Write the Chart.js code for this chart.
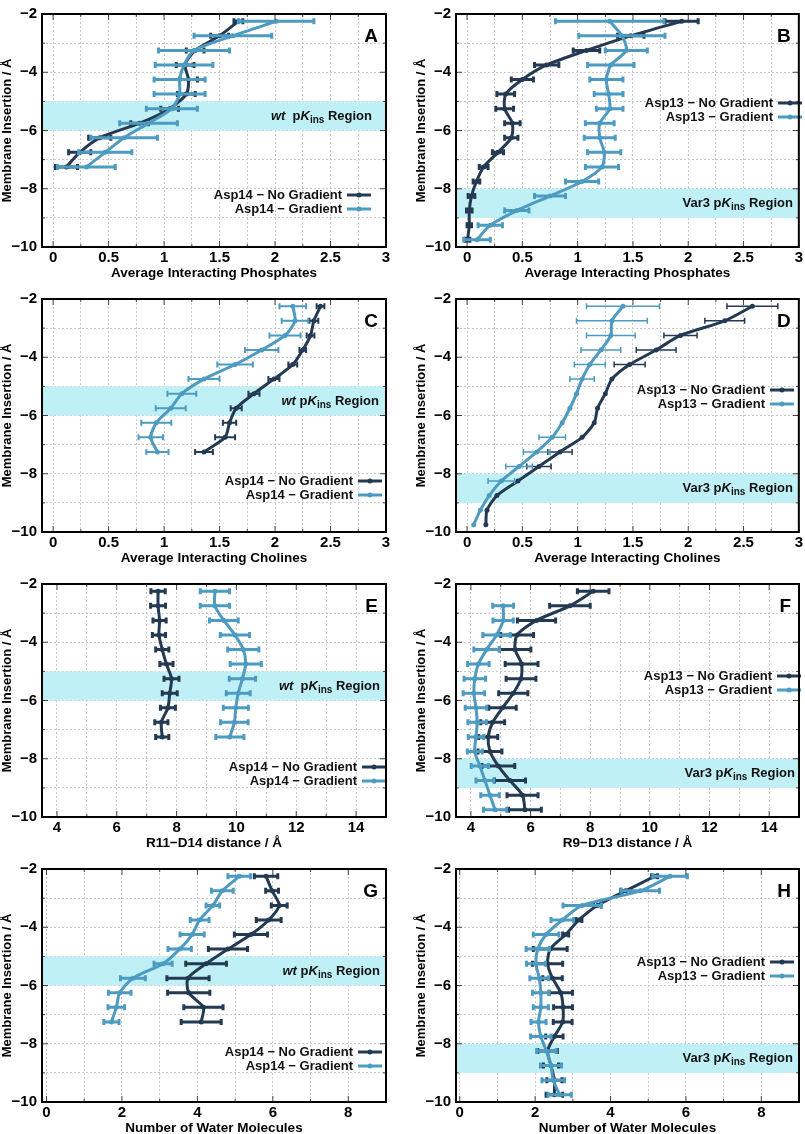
<!DOCTYPE html>
<html>
<head>
<meta charset="utf-8">
<script src="https://cdn.jsdelivr.net/npm/chart.js@4.4.1/dist/chart.umd.min.js"></script>
<style>
body { margin: 0; width: 805px; height: 1134px; overflow: hidden; background: #fff; position: relative; }
canvas { position: absolute; }
</style>
</head>
<body>
<script>
// membrane insertion depths (Å)
const depthsShort = [-2.25, -2.75, -3.25, -3.75, -4.25, -4.75, -5.25, -5.75, -6.25, -6.75, -7.25];
const depthsLong = [-2.25, -2.75, -3.25, -3.75, -4.25, -4.75, -5.25, -5.75, -6.25, -6.75, -7.25, -7.75, -8.25, -8.75, -9.25, -9.75];
const depthsF = [-2.75, -3.25, -3.75, -4.25, -4.75, -5.25, -5.75, -6.25, -6.75, -7.25, -7.75, -8.25, -8.75, -9.25, -9.75];

// A - phosphates, Asp14
const phosAsp14NoGrad = [1.67, 1.50, 1.28, 1.19, 1.22, 1.20, 1.05, 0.78, 0.42, 0.24, 0.12];
const phosAsp14NoGradErr = [0.04, 0.08, 0.08, 0.08, 0.08, 0.08, 0.08, 0.08, 0.10, 0.10, 0.10];
const phosAsp14Grad = [2.01, 1.62, 1.27, 1.18, 1.14, 1.14, 1.07, 0.86, 0.64, 0.47, 0.30];
const phosAsp14GradErr = [0.34, 0.35, 0.32, 0.26, 0.23, 0.23, 0.23, 0.26, 0.30, 0.24, 0.26];

// B - phosphates, Asp13
const phosAsp13NoGrad = [1.94, 1.48, 1.08, 0.72, 0.50, 0.35, 0.34, 0.41, 0.40, 0.28, 0.15, 0.085, 0.04, 0.02, 0.02, 0.005];
const phosAsp13NoGradErr = [0.15, 0.12, 0.12, 0.11, 0.10, 0.08, 0.08, 0.07, 0.06, 0.05, 0.04, 0.03, 0.03, 0.025, 0.02, 0.02];
const phosAsp13Grad = [1.29, 1.40, 1.44, 1.30, 1.26, 1.28, 1.29, 1.20, 1.20, 1.24, 1.22, 1.04, 0.75, 0.45, 0.21, 0.09];
const phosAsp13GradErr = [0.49, 0.39, 0.19, 0.21, 0.15, 0.13, 0.12, 0.13, 0.14, 0.15, 0.15, 0.15, 0.14, 0.11, 0.11, 0.12];

// C - cholines, Asp14
const cholAsp14NoGrad = [2.41, 2.35, 2.32, 2.25, 2.16, 1.99, 1.81, 1.65, 1.59, 1.55, 1.36];
const cholAsp14NoGradErr = [0.035, 0.04, 0.035, 0.03, 0.04, 0.05, 0.05, 0.05, 0.06, 0.09, 0.08];
const cholAsp14Grad = [2.16, 2.18, 2.09, 1.88, 1.64, 1.36, 1.16, 1.06, 0.93, 0.88, 0.94];
const cholAsp14GradErr = [0.12, 0.12, 0.14, 0.15, 0.16, 0.14, 0.13, 0.135, 0.135, 0.11, 0.10];

// D - cholines, Asp13
const cholAsp13NoGrad = [2.58, 2.33, 1.93, 1.71, 1.47, 1.31, 1.25, 1.18, 1.15, 1.04, 0.84, 0.65, 0.46, 0.27, 0.18, 0.17];
const cholAsp13NoGradErr = [0.23, 0.18, 0.15, 0.18, 0.14, null, null, null, null, null, 0.11, 0.11, null, null, null, null];
const cholAsp13Grad = [1.41, 1.31, 1.30, 1.21, 1.11, 1.04, 0.99, 0.93, 0.86, 0.77, 0.63, 0.47, 0.31, 0.20, 0.12, 0.06];
const cholAsp13GradErr = [0.33, 0.32, 0.22, 0.18, 0.14, 0.11, null, null, null, 0.12, 0.12, 0.12, 0.12, null, null, null];

// E - R11-D14 distance
const distR11D14NoGrad = [7.38, 7.38, 7.43, 7.41, 7.52, 7.66, 7.83, 7.77, 7.71, 7.49, 7.52];
const distR11D14NoGradErr = [0.24, 0.25, 0.22, 0.22, 0.22, 0.22, 0.25, 0.25, 0.25, 0.22, 0.22];
const distR11D14Grad = [9.28, 9.28, 9.58, 9.95, 10.23, 10.31, 10.20, 10.06, 9.98, 9.93, 9.78];
const distR11D14GradErr = [0.49, 0.49, 0.48, 0.49, 0.52, 0.52, 0.44, 0.40, 0.42, 0.46, 0.47];

// F - R9-D13 distance
const distR9D13NoGrad = [8.10, 7.32, 6.20, 5.55, 5.48, 5.70, 5.68, 5.42, 5.06, 4.73, 4.58, 4.64, 4.92, 5.31, 5.73, 5.81];
const distR9D13NoGradErr = [0.53, 0.68, 0.64, 0.55, 0.53, 0.55, 0.50, 0.49, 0.46, 0.40, 0.32, 0.40, 0.55, 0.52, 0.52, 0.55];
const distR9D13Grad = [5.08, 5.08, 4.86, 4.53, 4.25, 4.13, 4.10, 4.17, 4.21, 4.17, 4.13, 4.30, 4.47, 4.64, 4.81];
const distR9D13GradErr = [0.35, 0.34, 0.46, 0.43, 0.36, 0.36, 0.36, 0.36, 0.31, 0.26, 0.25, 0.29, 0.30, 0.31, 0.39];

// G - water, Asp14
const waterAsp14NoGrad = [5.82, 5.98, 6.17, 5.89, 5.42, 4.81, 4.23, 3.75, 3.77, 4.16, 4.10];
const waterAsp14NoGradErr = [0.31, 0.17, 0.21, 0.33, 0.44, 0.52, 0.54, 0.56, 0.56, 0.52, 0.53];
const waterAsp14Grad = [5.11, 4.66, 4.41, 4.06, 3.86, 3.53, 3.09, 2.29, 1.94, 1.85, 1.72];
const waterAsp14GradErr = [0.30, 0.29, 0.18, 0.25, 0.32, 0.31, 0.24, 0.33, 0.30, 0.22, 0.20];

// H - water, Asp13
const waterAsp13NoGrad = [5.17, 4.40, 3.65, 3.16, 2.81, 2.40, 2.33, 2.46, 2.68, 2.74, 2.73, 2.51, 2.33, 2.42, 2.51, 2.51];
const waterAsp13NoGradErr = [0.08, 0.13, 0.10, 0.08, 0.08, 0.45, 0.40, 0.26, 0.31, 0.25, 0.25, 0.23, 0.26, 0.20, 0.20, 0.22];
const waterAsp13Grad = [5.58, 4.79, 3.25, 2.72, 2.29, 2.07, 2.02, 2.11, 2.15, 2.15, 2.09, 2.15, 2.30, 2.42, 2.48, 2.65];
const waterAsp13GradErr = [0.46, 0.51, 0.51, 0.30, 0.34, 0.31, 0.25, 0.25, 0.22, 0.20, 0.20, 0.27, 0.26, 0.28, 0.30, 0.31];

const asp14Names = ['Asp14 \u2212 No Gradient', 'Asp14 \u2212 Gradient'];
const asp13Names = ['Asp13 \u2212 No Gradient', 'Asp13 \u2212 Gradient'];

const DARK = '#233a52';
const LIGHT = '#4d9bc1';
const BAND = '#bff0f6';
const FONT = '"Liberation Sans", Arial, sans-serif';

const panels = [
  { key: 'A', col: 0, row: 0, xTitle: 'Average Interacting Phosphates', xMin: -0.1, xMax: 3, minor: 0.25, major: 0.5,
    names: asp14Names, band: [-6, -5], region: 'wt', regionEnd: 372, legend: [347, 195], errW: 3,
    dark: [depthsShort, phosAsp14NoGrad, phosAsp14NoGradErr], light: [depthsShort, phosAsp14Grad, phosAsp14GradErr] },
  { key: 'B', col: 1, row: 0, xTitle: 'Average Interacting Phosphates', xMin: -0.1, xMax: 3, minor: 0.25, major: 0.5,
    names: asp13Names, band: [-9, -8], region: 'Var3', regionEnd: 393, legend: [378, 103], errW: 3,
    dark: [depthsLong, phosAsp13NoGrad, phosAsp13NoGradErr], light: [depthsLong, phosAsp13Grad, phosAsp13GradErr] },
  { key: 'C', col: 0, row: 1, xTitle: 'Average Interacting Cholines', xMin: -0.1, xMax: 3, minor: 0.25, major: 0.5,
    names: asp14Names, band: [-6, -5], region: 'wt', regionEnd: 379, legend: [358, 196], errW: 2,
    dark: [depthsShort, cholAsp14NoGrad, cholAsp14NoGradErr], light: [depthsShort, cholAsp14Grad, cholAsp14GradErr] },
  { key: 'D', col: 1, row: 1, xTitle: 'Average Interacting Cholines', xMin: -0.1, xMax: 3, minor: 0.25, major: 0.5,
    names: asp13Names, band: [-9, -8], region: 'Var3', regionEnd: 393, legend: [370, 105], errW: 1.5,
    dark: [depthsLong, cholAsp13NoGrad, cholAsp13NoGradErr], light: [depthsLong, cholAsp13Grad, cholAsp13GradErr] },
  { key: 'E', col: 0, row: 2, xTitle: 'R11\u2212D14 distance / \u00c5', xMin: 3.5, xMax: 15, minor: 1, major: 2,
    names: asp14Names, band: [-6, -5], region: 'wt', regionEnd: 380, legend: [362, 197], errW: 3,
    dark: [depthsShort, distR11D14NoGrad, distR11D14NoGradErr], light: [depthsShort, distR11D14Grad, distR11D14GradErr] },
  { key: 'F', col: 1, row: 2, xTitle: 'R9\u2212D13 distance / \u00c5', xMin: 3.5, xMax: 15, minor: 1, major: 2,
    names: asp13Names, band: [-9, -8], region: 'Var3', regionEnd: 395, legend: [377, 106], errW: 3,
    dark: [depthsLong, distR9D13NoGrad, distR9D13NoGradErr], light: [depthsF, distR9D13Grad, distR9D13GradErr] },
  { key: 'G', col: 0, row: 3, xTitle: 'Number of Water Molecules', xMin: -0.12, xMax: 9, minor: 1, major: 2,
    names: asp14Names, band: [-6, -5], region: 'wt', regionEnd: 380, legend: [358, 197], errW: 3,
    dark: [depthsShort, waterAsp14NoGrad, waterAsp14NoGradErr], light: [depthsShort, waterAsp14Grad, waterAsp14GradErr] },
  { key: 'H', col: 1, row: 3, xTitle: 'Number of Water Molecules', xMin: -0.1, xMax: 9, minor: 1, major: 2,
    names: asp13Names, band: [-9, -8], region: 'Var3', regionEnd: 393, legend: [370, 107], errW: 3,
    dark: [depthsLong, waterAsp13NoGrad, waterAsp13NoGradErr], light: [depthsLong, waterAsp13Grad, waterAsp13GradErr] }
];

function isMajor(v, step) {
  const r = v / step;
  return Math.abs(r - Math.round(r)) < 1e-6;
}

function fmt(v) {
  const s = String(Math.round(v * 100) / 100);
  return v < 0 ? '\u2212' + s.slice(1) : s;
}

function drawErrorBars(ctx, chart, ds, width) {
  const xs = chart.scales.x, ys = chart.scales.y;
  ctx.save();
  ctx.strokeStyle = ds.borderColor;
  ctx.lineWidth = width;
  ds.data.forEach((p, i) => {
    const e = ds.errors[i];
    if (e == null) return;
    const py = ys.getPixelForValue(p.y);
    const x0 = xs.getPixelForValue(p.x - e);
    const x1 = xs.getPixelForValue(p.x + e);
    ctx.beginPath();
    ctx.moveTo(x0, py); ctx.lineTo(x1, py);
    ctx.moveTo(x0, py - 3); ctx.lineTo(x0, py + 3);
    ctx.moveTo(x1, py - 3); ctx.lineTo(x1, py + 3);
    ctx.stroke();
  });
  ctx.restore();
}

function drawRegionLabel(ctx, panel, xRight, yMid) {
  const base = 'bold 13px ' + FONT;
  const ital = 'italic bold 13px ' + FONT;
  const segs = panel.region === 'wt'
    ? [['wt', ital, 0], [panel.key === 'A' || panel.key === 'E' ? '  p' : ' p', base, 0], ['K', ital, 0], ['ins', 'bold 10px ' + FONT, 4], [' Region', base, 0]]
    : [['Var3 p', base, 0], ['K', ital, 0], ['ins', 'bold 10px ' + FONT, 4], [' Region', base, 0]];
  let total = 0;
  segs.forEach(s => { ctx.font = s[1]; total += ctx.measureText(s[0]).width; });
  let x = xRight - total;
  ctx.save();
  ctx.fillStyle = '#111';
  ctx.textBaseline = 'middle';
  ctx.textAlign = 'left';
  segs.forEach(s => {
    ctx.font = s[1];
    ctx.fillText(s[0], x, yMid + s[2]);
    x += ctx.measureText(s[0]).width;
  });
  ctx.restore();
}

function makeDecor(panel) {
  return {
    id: 'decor' + panel.key,
    beforeDatasetsDraw(chart) {
      const {ctx, chartArea} = chart;
      const y = chart.scales.y;
      const top = y.getPixelForValue(panel.band[1]);
      const bot = y.getPixelForValue(panel.band[0]);
      ctx.save();
      ctx.fillStyle = BAND;
      ctx.fillRect(chartArea.left, top, chartArea.right - chartArea.left, bot - top);
      ctx.restore();
    },
    beforeDatasetDraw(chart, args) {
      drawErrorBars(chart.ctx, chart, chart.data.datasets[args.index], panel.errW);
    },
    afterDatasetsDraw(chart) {
      const {ctx, chartArea} = chart;
      const y = chart.scales.y;
      drawRegionLabel(ctx, panel, panel.regionEnd, y.getPixelForValue((panel.band[0] + panel.band[1]) / 2));

      // legend
      const [lx, ly] = panel.legend;
      [[panel.names[0], DARK], [panel.names[1], LIGHT]].forEach((it, k) => {
        const yy = ly + k * 14;
        ctx.save();
        ctx.font = 'bold 13px ' + FONT;
        ctx.fillStyle = '#111';
        ctx.textAlign = 'right';
        ctx.textBaseline = 'middle';
        ctx.fillText(it[0], lx - 5, yy);
        ctx.strokeStyle = it[1];
        ctx.lineWidth = 3;
        ctx.beginPath(); ctx.moveTo(lx, yy); ctx.lineTo(lx + 24, yy); ctx.stroke();
        ctx.fillStyle = it[1];
        ctx.beginPath(); ctx.arc(lx + 12, yy, 2.5, 0, Math.PI * 2); ctx.fill();
        ctx.restore();
      });

      // panel letter
      ctx.save();
      ctx.font = 'bold 19px ' + FONT;
      ctx.fillStyle = '#000';
      ctx.textAlign = 'right';
      ctx.textBaseline = 'middle';
      ctx.fillText(panel.key, chartArea.right - 8, chartArea.top + 23);
      ctx.restore();
    },
    afterDraw(chart) {
      const {ctx, chartArea} = chart;
      const xs = chart.scales.x, ys = chart.scales.y;
      ctx.save();
      ctx.strokeStyle = '#444';
      ctx.lineWidth = 1;
      xs.ticks.forEach(t => {
        const px = xs.getPixelForValue(t.value);
        const len = isMajor(t.value, panel.major) ? 6 : 3;
        ctx.beginPath();
        ctx.moveTo(px, chartArea.bottom); ctx.lineTo(px, chartArea.bottom - len);
        ctx.moveTo(px, chartArea.top); ctx.lineTo(px, chartArea.top + len);
        ctx.stroke();
      });
      ys.ticks.forEach(t => {
        const py = ys.getPixelForValue(t.value);
        const len = isMajor(t.value, 2) ? 6 : 3;
        ctx.beginPath();
        ctx.moveTo(chartArea.left, py); ctx.lineTo(chartArea.left + len, py);
        ctx.moveTo(chartArea.right, py); ctx.lineTo(chartArea.right - len, py);
        ctx.stroke();
      });
      ctx.strokeStyle = '#000';
      ctx.lineWidth = 2;
      ctx.strokeRect(chartArea.left, chartArea.top, chartArea.right - chartArea.left, chartArea.bottom - chartArea.top);
      ctx.restore();
    }
  };
}

function series(label, depths, values, errs, color, order) {
  return {
    label: label,
    data: values.map((v, i) => ({ x: v, y: depths[i] })),
    errors: errs,
    borderColor: color,
    backgroundColor: color,
    pointBackgroundColor: color,
    pointBorderColor: color,
    pointRadius: 2.5,
    pointBorderWidth: 0,
    borderWidth: 3,
    showLine: true,
    tension: 0.25,
    order: order
  };
}

panels.forEach(panel => {
  const W = panel.col === 0 ? 400 : 405;
  const H = 283;
  const plotLeft = panel.col === 0 ? 42 : 56;
  const plotRight = panel.col === 0 ? 386 : 399;

  const canvas = document.createElement('canvas');
  canvas.width = W;
  canvas.height = H;
  canvas.style.left = (panel.col * 400) + 'px';
  canvas.style.top = (panel.row * 285) + 'px';
  canvas.style.width = W + 'px';
  canvas.style.height = H + 'px';
  document.body.appendChild(canvas);

  new Chart(canvas.getContext('2d'), {
    type: 'scatter',
    data: {
      datasets: [
        series(panel.names[0], panel.dark[0], panel.dark[1], panel.dark[2], DARK, 2),
        series(panel.names[1], panel.light[0], panel.light[1], panel.light[2], LIGHT, 1)
      ]
    },
    options: {
      responsive: false,
      animation: false,
      devicePixelRatio: 1,
      layout: { padding: { top: 7, right: W - plotRight, left: 0, bottom: 0 } },
      plugins: { legend: { display: false }, tooltip: { enabled: false } },
      scales: {
        x: {
          type: 'linear',
          min: panel.xMin,
          max: panel.xMax,
          afterFit: s => { s.height = H - 247; },
          ticks: {
            stepSize: panel.minor,
            includeBounds: false,
            autoSkip: false,
            maxRotation: 0,
            padding: 2,
            color: '#000',
            font: { family: FONT, size: 15, weight: 'bold' },
            callback: v => isMajor(v, panel.major) ? fmt(v) : ''
          },
          grid: { color: '#c9c9c9', lineWidth: 1, drawTicks: false },
          border: { display: false, dash: [2, 2] },
          title: {
            display: true,
            text: panel.xTitle,
            color: '#000',
            font: { family: FONT, size: 13.5, weight: 'bold' },
            padding: { top: 0, bottom: 2 }
          }
        },
        y: {
          type: 'linear',
          min: -10,
          max: -2,
          afterFit: s => { s.width = plotLeft; },
          ticks: {
            stepSize: 1,
            autoSkip: false,
            padding: 5,
            color: '#000',
            font: { family: FONT, size: 15, weight: 'bold' },
            callback: v => isMajor(v, 2) ? fmt(v) : ''
          },
          grid: { color: '#c9c9c9', lineWidth: 1, drawTicks: false },
          border: { display: false, dash: [2, 2] },
          title: {
            display: true,
            text: 'Membrane Insertion / \u00c5',
            color: '#000',
            font: { family: FONT, size: 13, weight: 'bold' },
            padding: { top: panel.col === 0 ? 0 : 14, bottom: 0 }
          }
        }
      }
    },
    plugins: [makeDecor(panel)]
  });
});
</script>
</body>
</html>
